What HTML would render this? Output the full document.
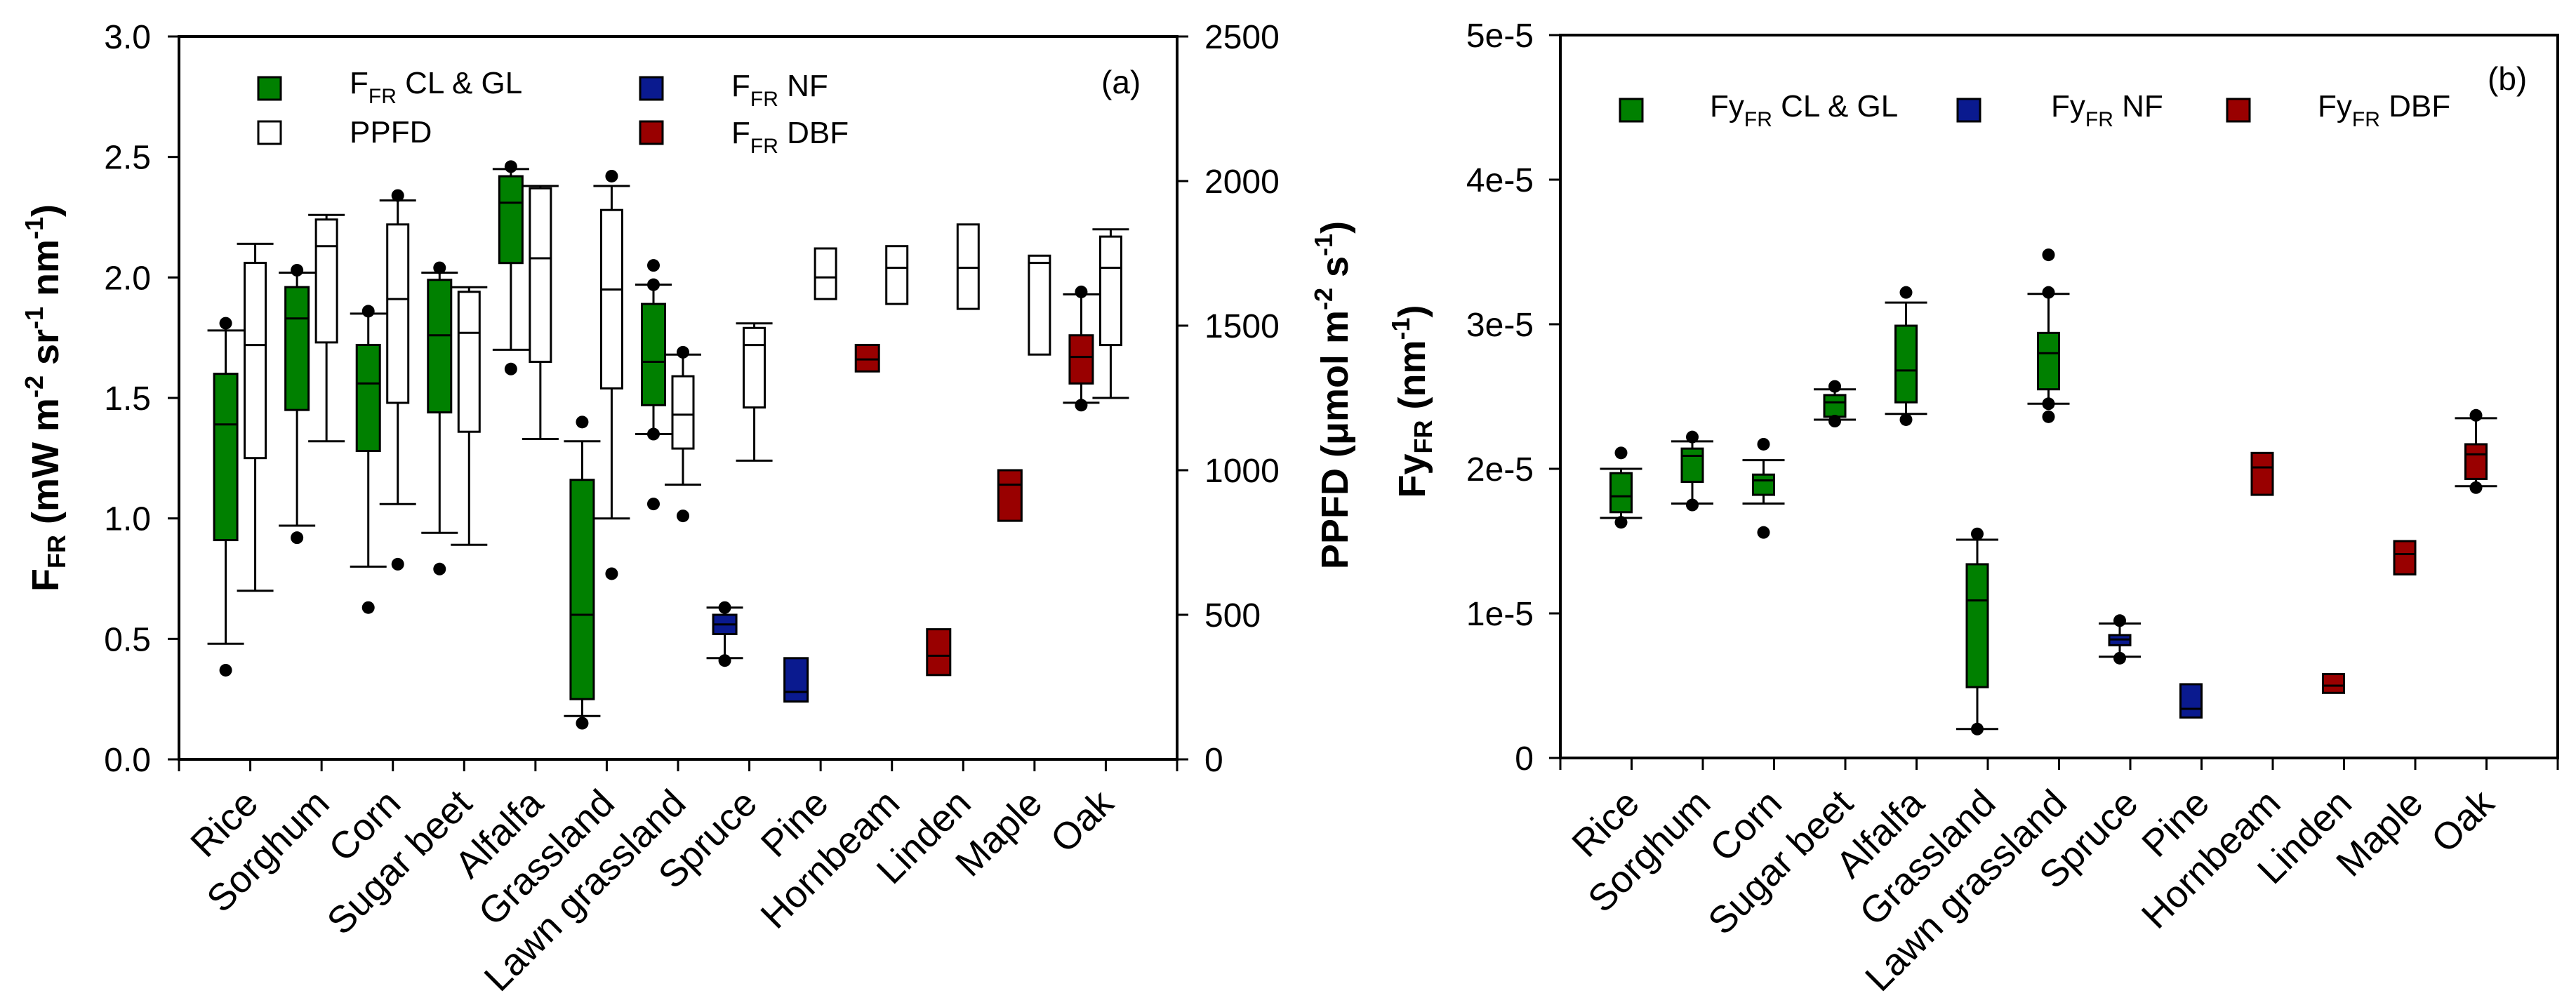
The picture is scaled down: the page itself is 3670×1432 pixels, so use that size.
<!DOCTYPE html>
<html><head><meta charset="utf-8"><title>FFR box plots</title>
<style>
html,body{margin:0;padding:0;background:#fff;}
svg{display:block;font-family:"Liberation Sans",Arial,sans-serif;}
</style></head>
<body>
<svg id="chart" xmlns="http://www.w3.org/2000/svg" width="3670" height="1432" viewBox="0 0 3670 1432">
<rect x="0" y="0" width="3670" height="1432" fill="#fff"/>
<g id="panelA"></g>
<g id="panelB"></g>
</svg>
<script>
const cats=["Rice","Sorghum","Corn","Sugar beet","Alfalfa","Grassland","Lawn grassland","Spruce","Pine","Hornbeam","Linden","Maple","Oak"];
const grp=["cl","cl","cl","cl","cl","cl","cl","nf","nf","dbf","dbf","dbf","dbf"];
// Panel (a) FFR (mW m-2 sr-1 nm-1)
const ffrWhiHi=[1.78,2.02,1.85,2.02,2.45,1.32,1.97,0.63,0.42,1.72,0.54,1.20,1.93];
const ffrQ3   =[1.60,1.96,1.72,1.99,2.42,1.16,1.89,0.60,0.42,1.72,0.54,1.20,1.76];
const ffrMed  =[1.39,1.83,1.56,1.76,2.31,0.60,1.65,0.56,0.28,1.66,0.43,1.14,1.67];
const ffrQ1   =[0.91,1.45,1.28,1.44,2.06,0.25,1.47,0.52,0.24,1.61,0.35,0.99,1.56];
const ffrWhiLo=[0.48,0.97,0.80,0.94,1.70,0.18,1.35,0.42,0.24,1.61,0.35,0.99,1.48];
const ffrOut  =[[1.81,0.37],[2.03,0.92],[1.86,0.63],[2.04,0.79],[2.46,1.62],[1.40,0.15],[2.05,1.97,1.35,1.06],[0.63,0.41],[],[],[],[],[1.94,1.47]];
// Panel (a) PPFD (umol m-2 s-1)
const ppfdWhiHi=[1783,1883,1933,1633,1983,1983,1400,1508,1767,1775,1850,1742,1833];
const ppfdQ3   =[1717,1867,1850,1617,1975,1900,1325,1492,1767,1775,1850,1742,1808];
const ppfdMed  =[1433,1775,1592,1475,1733,1625,1192,1433,1667,1700,1700,1717,1700];
const ppfdQ1   =[1042,1442,1233,1133,1375,1283,1075,1217,1592,1575,1558,1400,1433];
const ppfdWhiLo=[583,1100,883,742,1108,833,950,1033,1592,1575,1558,1400,1250];
const ppfdOut  =[[],[],[1950,675],[],[],[2017,642],[1408,842],[],[],[],[],[],[]];
// Panel (b) FyFR (nm-1)
const fyWhiHi=[2.00e-5,2.19e-5,2.06e-5,2.55e-5,3.15e-5,1.51e-5,3.21e-5,0.93e-5,0.51e-5,2.11e-5,0.58e-5,1.50e-5,2.35e-5];
const fyQ3   =[1.97e-5,2.14e-5,1.96e-5,2.51e-5,2.99e-5,1.34e-5,2.94e-5,0.85e-5,0.51e-5,2.11e-5,0.58e-5,1.50e-5,2.17e-5];
const fyMed  =[1.81e-5,2.09e-5,1.92e-5,2.46e-5,2.68e-5,1.09e-5,2.80e-5,0.82e-5,0.34e-5,2.01e-5,0.50e-5,1.41e-5,2.10e-5];
const fyQ1   =[1.70e-5,1.91e-5,1.82e-5,2.36e-5,2.46e-5,0.49e-5,2.55e-5,0.78e-5,0.28e-5,1.82e-5,0.45e-5,1.27e-5,1.93e-5];
const fyWhiLo=[1.66e-5,1.76e-5,1.76e-5,2.34e-5,2.38e-5,0.20e-5,2.45e-5,0.70e-5,0.28e-5,1.82e-5,0.45e-5,1.27e-5,1.88e-5];
const fyOut  =[[2.11e-5,1.63e-5],[2.22e-5,1.75e-5],[2.17e-5,1.56e-5],[2.57e-5,2.33e-5],[3.22e-5,2.34e-5],[1.55e-5,0.20e-5],[3.48e-5,3.22e-5,2.45e-5,2.36e-5],[0.95e-5,0.69e-5],[],[],[],[],[2.37e-5,1.87e-5]];
const ffrTicks=[0,0.5,1.0,1.5,2.0,2.5,3.0];
const ppfdTicks=[0,500,1000,1500,2000,2500];
const fyTicks=[0,1e-5,2e-5,3e-5,4e-5,5e-5];
const fyTickLabels=["0","1e-5","2e-5","3e-5","4e-5","5e-5"];

const NS="http://www.w3.org/2000/svg";
const COL={cl:"#008000",nf:"#0a1a8f",dbf:"#990000"};
function mk(parent,tag,attrs){const e=document.createElementNS(NS,tag);for(const k in attrs)e.setAttribute(k,attrs[k]);parent.appendChild(e);return e;}

const A={x0:255,x1:1677,y0:1082,y1:52};
const B={x0:2223,x1:3644,y0:1080,y1:50};
const xA=i=>A.x0+(i+1)*(A.x1-A.x0)/14;
const xB=i=>B.x0+(i+1)*(B.x1-B.x0)/14;
const yF=v=>A.y0-v*(A.y0-A.y1)/3;
const yP=v=>A.y0-v*(A.y0-A.y1)/2500;
const yY=v=>B.y0-v*(B.y0-B.y1)/5e-5;

function drawBox(g,cx,w,capW,yf,wlo,q1,med,q3,whi,outs,fill,name){
  const bg=mk(g,"g",{});
  
  
  const s={stroke:"#000","stroke-width":3};
  if(whi>q3+1e-12){mk(bg,"line",Object.assign({x1:cx,x2:cx,y1:yf(q3),y2:yf(whi)},s));mk(bg,"line",Object.assign({x1:cx-capW/2,x2:cx+capW/2,y1:yf(whi),y2:yf(whi)},s));}
  if(wlo<q1-1e-12){mk(bg,"line",Object.assign({x1:cx,x2:cx,y1:yf(q1),y2:yf(wlo)},s));mk(bg,"line",Object.assign({x1:cx-capW/2,x2:cx+capW/2,y1:yf(wlo),y2:yf(wlo)},s));}
  mk(bg,"rect",{x:cx-w/2,y:yf(q3),width:w,height:yf(q1)-yf(q3),fill:fill,stroke:"#000","stroke-width":3});
  mk(bg,"line",Object.assign({x1:cx-w/2,x2:cx+w/2,y1:yf(med),y2:yf(med)},s));
  outs.forEach(o=>{const c=mk(bg,"circle",{cx:cx,cy:yf(o),r:9,fill:"#000"});
    
    });
}
function txt(g,x,y,str,attrs,name){const t=mk(g,"text",Object.assign({x:x,y:y},attrs||{}));t.textContent=str;
  
  
  return t;}

// ---------- Panel A ----------
const pa=document.getElementById("panelA");
const frameA=mk(pa,"path",{d:`M${A.x0},${A.y1} V${A.y0} H${A.x1} V${A.y1} Z`,fill:"none",stroke:"#000","stroke-width":4});


ffrTicks.forEach(v=>{mk(pa,"line",{x1:A.x0-16,x2:A.x0,y1:yF(v),y2:yF(v),stroke:"#000","stroke-width":3});
  txt(pa,215,yF(v)+17,v.toFixed(1),{"font-size":48,"text-anchor":"end"},"y-tick-label-left");});
ppfdTicks.forEach(v=>{mk(pa,"line",{x1:A.x1,x2:A.x1+16,y1:yP(v),y2:yP(v),stroke:"#000","stroke-width":3});
  txt(pa,1716,yP(v)+17,String(v),{"font-size":48},"y-tick-label-right");});
for(let i=-1;i<14;i++){const x=A.x0+(i+1)*(A.x1-A.x0)/14;mk(pa,"line",{x1:x,x2:x,y1:A.y0,y2:A.y0+17,stroke:"#000","stroke-width":3});}
cats.forEach((c,i)=>{const x=xA(i);
  txt(pa,x+14,1148,c,{"font-size":54,"text-anchor":"end",transform:`rotate(-45 ${x+14} 1148)`},"x-category-label");
  drawBox(pa,x-35,33,52,yF,ffrWhiLo[i],ffrQ1[i],ffrMed[i],ffrQ3[i],ffrWhiHi[i],ffrOut[i],COL[grp[i]],"ffr-box");
  drawBox(pa,x+7,30,52,yP,ppfdWhiLo[i],ppfdQ1[i],ppfdMed[i],ppfdQ3[i],ppfdWhiHi[i],ppfdOut[i],"#fff","ppfd-box");
});
let t=mk(pa,"text",{x:0,y:0,"font-size":54,"font-weight":"bold","text-anchor":"middle",transform:"translate(83,567) rotate(-90)"});


t.innerHTML='F<tspan font-size="36" dy="10">FR</tspan><tspan dy="-10"> (mW m</tspan><tspan font-size="36" dy="-22">-2</tspan><tspan dy="22"> sr</tspan><tspan font-size="36" dy="-22">-1</tspan><tspan dy="22"> nm</tspan><tspan font-size="36" dy="-22">-1</tspan><tspan dy="22">)</tspan>';
t=mk(pa,"text",{x:0,y:0,"font-size":54,"font-weight":"bold","text-anchor":"middle",transform:"translate(1920,563) rotate(-90)"});


t.innerHTML='PPFD (μmol m<tspan font-size="36" dy="-22">-2</tspan><tspan dy="22"> s</tspan><tspan font-size="36" dy="-22">-1</tspan><tspan dy="22">)</tspan>';
function legSq(g,x,y,fill,name){const r=mk(g,"rect",{x:x,y:y,width:32,height:32,fill:fill,stroke:"#000","stroke-width":3});
  
  }
function legTxt(g,x,y,main,sub,rest,name){const t=mk(g,"text",{x:x,y:y,"font-size":44});
  
  
  t.innerHTML=main+'<tspan font-size="30" dy="14">'+sub+'</tspan><tspan dy="-14">'+rest+'</tspan>';}
legSq(pa,368,110,COL.cl,"legend-swatch-cl-gl");
legTxt(pa,498,133,"F","FR"," CL &amp; GL","legend-label-cl-gl");
legSq(pa,368,173,"#fff","legend-swatch-ppfd");
legTxt(pa,498,203,"PPFD","","","legend-label-ppfd");
legSq(pa,912,110,COL.nf,"legend-swatch-nf");
legTxt(pa,1042,137,"F","FR"," NF","legend-label-nf");
legSq(pa,912,173,COL.dbf,"legend-swatch-dbf");
legTxt(pa,1042,204,"F","FR"," DBF","legend-label-dbf");
txt(pa,1569,133,"(a)",{"font-size":46},"panel-label-a");

// ---------- Panel B ----------
const pb=document.getElementById("panelB");
const frameB=mk(pb,"path",{d:`M${B.x0},${B.y1} V${B.y0} H${B.x1} V${B.y1} Z`,fill:"none",stroke:"#000","stroke-width":4});


fyTicks.forEach((v,k)=>{mk(pb,"line",{x1:B.x0-16,x2:B.x0,y1:yY(v),y2:yY(v),stroke:"#000","stroke-width":3});
  txt(pb,2185,yY(v)+17,fyTickLabels[k],{"font-size":48,"text-anchor":"end"},"y-tick-label-b");});
for(let i=-1;i<14;i++){const x=B.x0+(i+1)*(B.x1-B.x0)/14;mk(pb,"line",{x1:x,x2:x,y1:B.y0,y2:B.y0+17,stroke:"#000","stroke-width":3});}
cats.forEach((c,i)=>{const x=xB(i);
  txt(pb,x+14,1148,c,{"font-size":54,"text-anchor":"end",transform:`rotate(-45 ${x+14} 1148)`},"x-category-label-b");
  drawBox(pb,x-15,30,60,yY,fyWhiLo[i],fyQ1[i],fyMed[i],fyQ3[i],fyWhiHi[i],fyOut[i],COL[grp[i]],"fy-box");
});
t=mk(pb,"text",{x:0,y:0,"font-size":54,"font-weight":"bold","text-anchor":"middle",transform:"translate(2030,572) rotate(-90)"});


t.innerHTML='Fy<tspan font-size="36" dy="10">FR</tspan><tspan dy="-10"> (nm</tspan><tspan font-size="36" dy="-22">-1</tspan><tspan dy="22">)</tspan>';
legSq(pb,2308,141,COL.cl,"legend-swatch-fy-cl-gl");
legTxt(pb,2436,166,"Fy","FR"," CL &amp; GL","legend-label-fy-cl-gl");
legSq(pb,2789,141,COL.nf,"legend-swatch-fy-nf");
legTxt(pb,2922,166,"Fy","FR"," NF","legend-label-fy-nf");
legSq(pb,3173,141,COL.dbf,"legend-swatch-fy-dbf");
legTxt(pb,3302,166,"Fy","FR"," DBF","legend-label-fy-dbf");
txt(pb,3544,128,"(b)",{"font-size":46},"panel-label-b");
</script>
</body></html>
